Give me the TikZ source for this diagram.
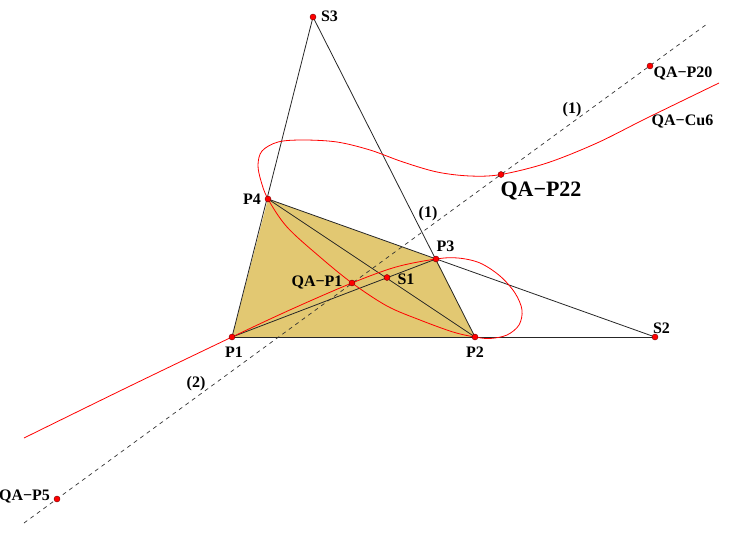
\documentclass[tikz,border=0pt]{standalone}
\usepackage{fontspec}
\setmainfont{Liberation Serif}
\definecolor{quadfill}{RGB}{226,200,114}
\begin{document}
\begin{tikzpicture}[x=1pt,y=-1pt,
  ptmark/.style={circle,fill=red,draw=red!45!black,line width=0.4pt,inner sep=0pt,minimum size=6pt},
  geo/.style={draw=black!85,line width=0.8pt},
  cub/.style={draw=red,line width=0.8pt},
  axisline/.style={draw=black!80,line width=0.7pt,dash pattern=on 4pt off 4pt},
  lbl/.style={font=\bfseries\fontsize{16}{16}\selectfont,inner sep=0pt},
  biglbl/.style={font=\bfseries\fontsize{22}{22}\selectfont,inner sep=0pt}]
\useasboundingbox (0,0) rectangle (734,538);
% coordinates
\coordinate (cS3) at (313,17);
\coordinate (cP4) at (268,199);
\coordinate (cP3) at (436,259);
\coordinate (cP1) at (232,337);
\coordinate (cP2) at (475,337);
\coordinate (cS2) at (655,337);
\coordinate (cS1) at (387,277.5);
\coordinate (cQ1) at (352,283);
\coordinate (cQ22) at (501,174.5);
\coordinate (cQ20) at (650,66);
\coordinate (cQ5) at (57,499);
\coordinate (dA) at (24,523);
\coordinate (dB) at (707,24);
% quadrilateral
\fill[quadfill] (cP1)--(cP2)--(cP3)--(cP4)--cycle;
% lines
\draw[geo] (cS3)--(cP1);
\draw[geo] (cS3)--(cP2);
\draw[geo] (cP4)--(cS2);
\draw[geo] (cP1)--(cS2);
\draw[geo] (cP1)--(cP3);
\draw[geo] (cP4)--(cP2);
% dashed axis
\draw[axisline] (dA)--(dB);
% cubic
\draw[cub] plot[smooth,tension=0.55] coordinates {
 (24,438) (128,387) (232,337) (292,309) (352,283) (396,267) (436,259)
 (458,258) (480,263) (500,276) (515,293) (522,310) (519,325) (507,335) (490,338.5) (475,337)
 (453,332) (420,320) (387,306) (352,283) (320,257) (287,227) (268,199)
 (261,181) (258,165) (262,151) (278,142) (303,140) (337,142) (370,150)
 (403,162) (437,172) (470,176) (501,174.5) (547,163) (597,143) (647,118) (719,83)};
% points
\node[ptmark] (S3) at (cS3) {};
\node[ptmark] (P4) at (cP4) {};
\node[ptmark] (P3) at (cP3) {};
\node[ptmark] (P1) at (cP1) {};
\node[ptmark] (P2) at (cP2) {};
\node[ptmark] (S2) at (cS2) {};
\node[ptmark] (S1) at (cS1) {};
\node[ptmark] (Q1) at (cQ1) {};
\node[ptmark] (Q22) at (cQ22) {};
\node[ptmark] (Q20) at (cQ20) {};
\node[ptmark] (Q5) at (cQ5) {};
% labels
\node[lbl] (lS3) at (329.5,16) {S3};
\node[lbl] (lP4) at (252,199) {P4};
\node[lbl] (lP3) at (445.5,246) {P3};
\node[lbl] (lP1) at (234,352.5) {P1};
\node[lbl] (lP2) at (475,352.5) {P2};
\node[lbl] (lS2) at (661.5,328.5) {S2};
\node[lbl] (lS1) at (406,279) {S1};
\node[lbl] (lQ1) at (317,282) {QA−P1};
\node[biglbl] (lQ22) at (541,191) {QA−P22};
\node[lbl] (lQ20) at (683,73.5) {QA−P20};
\node[lbl] (lCu) at (682.5,121.5) {QA−Cu6};
\node[lbl] (lQ5) at (24.5,496) {QA−P5};
\node[lbl] (lone1) at (428,214) {(1)};
\node[lbl] (lone2) at (572,109.5) {(1)};
\node[lbl] (ltwo) at (196,384) {(2)};
\end{tikzpicture}
\end{document}
